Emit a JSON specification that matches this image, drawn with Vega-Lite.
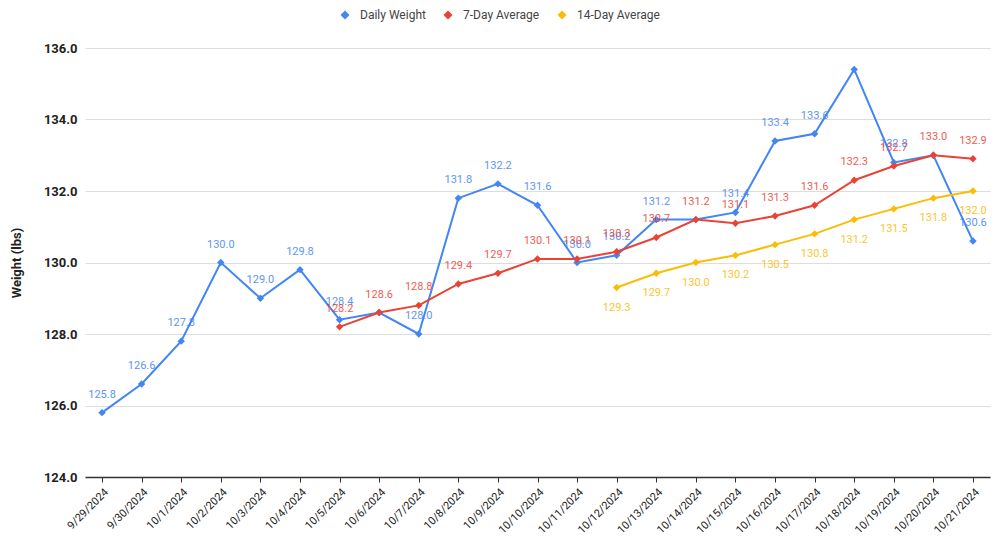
{
  "$schema": "https://vega.github.io/schema/vega-lite/v6.json",
  "width": 905,
  "height": 429,
  "autosize": {"type": "none"},
  "padding": {"left": 85, "top": 48, "right": 10, "bottom": 64},
  "background": "white",
  "config": {
    "font": "Roboto",
    "view": {"stroke": null}
  },
  "data": {
    "values": [
      {"d": "9/29/2024", "s": "Daily Weight", "v": 125.8},
      {"d": "9/30/2024", "s": "Daily Weight", "v": 126.6},
      {"d": "10/1/2024", "s": "Daily Weight", "v": 127.8},
      {"d": "10/2/2024", "s": "Daily Weight", "v": 130.0},
      {"d": "10/3/2024", "s": "Daily Weight", "v": 129.0},
      {"d": "10/4/2024", "s": "Daily Weight", "v": 129.8},
      {"d": "10/5/2024", "s": "Daily Weight", "v": 128.4},
      {"d": "10/6/2024", "s": "Daily Weight", "v": 128.6},
      {"d": "10/7/2024", "s": "Daily Weight", "v": 128.0},
      {"d": "10/8/2024", "s": "Daily Weight", "v": 131.8},
      {"d": "10/9/2024", "s": "Daily Weight", "v": 132.2},
      {"d": "10/10/2024", "s": "Daily Weight", "v": 131.6},
      {"d": "10/11/2024", "s": "Daily Weight", "v": 130.0},
      {"d": "10/12/2024", "s": "Daily Weight", "v": 130.2},
      {"d": "10/13/2024", "s": "Daily Weight", "v": 131.2},
      {"d": "10/14/2024", "s": "Daily Weight", "v": 131.2},
      {"d": "10/15/2024", "s": "Daily Weight", "v": 131.4},
      {"d": "10/16/2024", "s": "Daily Weight", "v": 133.4},
      {"d": "10/17/2024", "s": "Daily Weight", "v": 133.6},
      {"d": "10/18/2024", "s": "Daily Weight", "v": 135.4},
      {"d": "10/19/2024", "s": "Daily Weight", "v": 132.8},
      {"d": "10/20/2024", "s": "Daily Weight", "v": 133.0},
      {"d": "10/21/2024", "s": "Daily Weight", "v": 130.6},
      {"d": "10/5/2024", "s": "7-Day Average", "v": 128.2},
      {"d": "10/6/2024", "s": "7-Day Average", "v": 128.6},
      {"d": "10/7/2024", "s": "7-Day Average", "v": 128.8},
      {"d": "10/8/2024", "s": "7-Day Average", "v": 129.4},
      {"d": "10/9/2024", "s": "7-Day Average", "v": 129.7},
      {"d": "10/10/2024", "s": "7-Day Average", "v": 130.1},
      {"d": "10/11/2024", "s": "7-Day Average", "v": 130.1},
      {"d": "10/12/2024", "s": "7-Day Average", "v": 130.3},
      {"d": "10/13/2024", "s": "7-Day Average", "v": 130.7},
      {"d": "10/14/2024", "s": "7-Day Average", "v": 131.2},
      {"d": "10/15/2024", "s": "7-Day Average", "v": 131.1},
      {"d": "10/16/2024", "s": "7-Day Average", "v": 131.3},
      {"d": "10/17/2024", "s": "7-Day Average", "v": 131.6},
      {"d": "10/18/2024", "s": "7-Day Average", "v": 132.3},
      {"d": "10/19/2024", "s": "7-Day Average", "v": 132.7},
      {"d": "10/20/2024", "s": "7-Day Average", "v": 133.0},
      {"d": "10/21/2024", "s": "7-Day Average", "v": 132.9},
      {"d": "10/12/2024", "s": "14-Day Average", "v": 129.3},
      {"d": "10/13/2024", "s": "14-Day Average", "v": 129.7},
      {"d": "10/14/2024", "s": "14-Day Average", "v": 130.0},
      {"d": "10/15/2024", "s": "14-Day Average", "v": 130.2},
      {"d": "10/16/2024", "s": "14-Day Average", "v": 130.5},
      {"d": "10/17/2024", "s": "14-Day Average", "v": 130.8},
      {"d": "10/18/2024", "s": "14-Day Average", "v": 131.2},
      {"d": "10/19/2024", "s": "14-Day Average", "v": 131.5},
      {"d": "10/20/2024", "s": "14-Day Average", "v": 131.8},
      {"d": "10/21/2024", "s": "14-Day Average", "v": 132.0}
    ]
  },
  "encoding": {
    "x": {
      "field": "d", "type": "ordinal", "sort": null,
      "scale": {"type": "point", "padding": 0.43},
      "axis": {
        "title": null, "labelAngle": -45, "labelAlign": "right", "labelBaseline": "top",
        "labelFont": "Roboto", "labelFontSize": 11, "labelColor": "#222222",
        "domainColor": "#333333", "domainWidth": 1.5, "tickColor": "#333333",
        "tickSize": 5, "labelPadding": 4, "grid": false
      }
    },
    "y": {
      "field": "v", "type": "quantitative",
      "scale": {"domain": [124, 136], "zero": false, "nice": false},
      "axis": {
        "title": "Weight (lbs)", "titleFontSize": 13, "titleFontWeight": "bold",
        "titleColor": "#222222", "titlePadding": 20, "titleFont": "Roboto",
        "values": [124, 126, 128, 130, 132, 134, 136], "format": ".1f",
        "labelFontSize": 13, "labelFontWeight": "bold", "labelColor": "#222222",
        "labelPadding": 8, "ticks": false, "domain": false,
        "gridColor": "#dddddd", "gridWidth": 1
      }
    },
    "color": {
      "field": "s", "type": "nominal",
      "scale": {"domain": ["Daily Weight", "7-Day Average", "14-Day Average"],
                "range": ["#4285f4", "#ea4335", "#fbbc04"]},
      "legend": {
        "title": null, "orient": "none", "direction": "horizontal",
        "legendX": 254, "legendY": -39, "symbolType": "diamond", "symbolSize": 80,
        "labelFontSize": 12, "labelColor": "#444444", "columnPadding": 16,
        "symbolStrokeWidth": 0, "labelOffset": 9
      }
    }
  },
  "layer": [
    {"mark": {"type": "line", "strokeWidth": 2}},
    {"mark": {"type": "point", "shape": "diamond", "filled": true, "size": 55, "opacity": 1}},
    {
      "transform": [
        {"filter": "datum.s !== '14-Day Average'"},
        {"filter": "!(datum.s === 'Daily Weight' && (datum.d === '10/6/2024' || datum.d === '10/14/2024' || datum.d === '10/18/2024' || datum.d === '10/20/2024'))"}
      ],
      "mark": {"type": "text", "dy": -18, "fontSize": 11, "opacity": 0.85},
      "encoding": {"text": {"field": "v", "type": "quantitative", "format": ".1f"}}
    },
    {
      "transform": [{"filter": "datum.s === '14-Day Average'"}],
      "mark": {"type": "text", "dy": 20, "fontSize": 11, "opacity": 0.85},
      "encoding": {"text": {"field": "v", "type": "quantitative", "format": ".1f"}}
    }
  ]
}
